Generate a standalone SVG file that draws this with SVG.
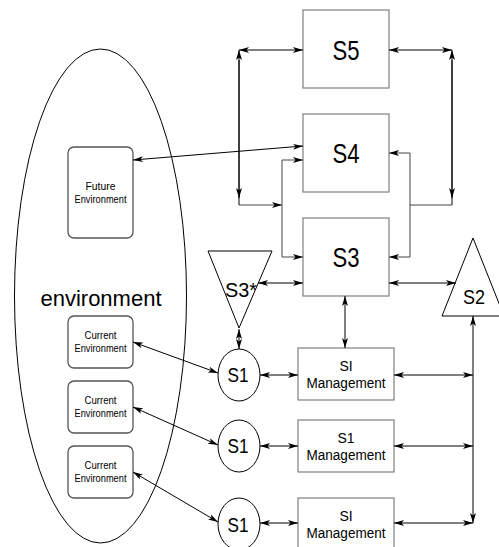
<svg xmlns="http://www.w3.org/2000/svg" width="499" height="547" viewBox="0 0 499 547">
<defs>
<marker id="ah" viewBox="0 0 10 6" refX="10" refY="3" markerWidth="10" markerHeight="6" markerUnits="userSpaceOnUse" orient="auto-start-reverse">
<path d="M0,0 L10,3 L0,6 L2.5,3 z" fill="#000"/>
</marker>
</defs>
<style>
.box{fill:#fff;stroke:#808080;stroke-width:1.2}
.env{fill:#fff;stroke:#555;stroke-width:1.3}
.sh{fill:#fff;stroke:#000;stroke-width:1}
.ln{fill:none;stroke:#000;stroke-width:1}
.g{stroke:#444}
.e{marker-end:url(#ah)}
.b{marker-start:url(#ah);marker-end:url(#ah)}
text{font-family:"Liberation Sans",Arial,sans-serif;fill:#000;text-anchor:middle}
.big{font-size:28px}
.mid{font-size:21px}
.sm{font-size:14px}
.xs{font-size:10px}
</style>
<g id="environment">
<ellipse class="sh" cx="100.5" cy="296" rx="86" ry="247"/>
<text x="101" y="306" style="font-size:22px">environment</text>
</g>
<g id="future-env">
<rect class="env" x="68" y="147" width="65" height="91" rx="6"/>
<text class="xs" x="100.5" y="190" textLength="30" lengthAdjust="spacingAndGlyphs">Future</text>
<text class="xs" x="100.5" y="203" textLength="52" lengthAdjust="spacingAndGlyphs">Environment</text>
</g>
<g id="current-env-1">
<rect class="env" x="68" y="316" width="65" height="52" rx="6"/>
<text class="xs" x="100.5" y="339" textLength="32" lengthAdjust="spacingAndGlyphs">Current</text>
<text class="xs" x="100.5" y="352" textLength="52" lengthAdjust="spacingAndGlyphs">Environment</text>
</g>
<g id="current-env-2">
<rect class="env" x="68" y="381" width="65" height="52" rx="6"/>
<text class="xs" x="100.5" y="404" textLength="32" lengthAdjust="spacingAndGlyphs">Current</text>
<text class="xs" x="100.5" y="417" textLength="52" lengthAdjust="spacingAndGlyphs">Environment</text>
</g>
<g id="current-env-3">
<rect class="env" x="68" y="446" width="65" height="52" rx="6"/>
<text class="xs" x="100.5" y="469" textLength="32" lengthAdjust="spacingAndGlyphs">Current</text>
<text class="xs" x="100.5" y="482" textLength="52" lengthAdjust="spacingAndGlyphs">Environment</text>
</g>
<g id="S5">
<rect class="box" x="303" y="10" width="86" height="78"/>
<text class="big" x="346" y="60" textLength="27" lengthAdjust="spacingAndGlyphs">S5</text>
</g>
<g id="S4">
<rect class="box" x="303" y="114" width="86" height="78"/>
<text class="big" x="346" y="163" textLength="27" lengthAdjust="spacingAndGlyphs">S4</text>
</g>
<g id="S3">
<rect class="box" x="303" y="218" width="86" height="78"/>
<text class="big" x="346" y="267" textLength="27" lengthAdjust="spacingAndGlyphs">S3</text>
</g>
<g id="S3star">
<polygon class="sh" points="208,251 272,251 239,328"/>
<text class="mid" x="241" y="297" textLength="32" lengthAdjust="spacingAndGlyphs">S3*</text>
</g>
<g id="S2">
<polygon class="sh" points="473,238 442,316 504,316"/>
<text class="mid" x="474" y="304" textLength="22" lengthAdjust="spacingAndGlyphs">S2</text>
</g>
<g id="S1-1">
<ellipse class="sh" cx="239" cy="375" rx="21" ry="26"/>
<text class="mid" x="238" y="382" textLength="21" lengthAdjust="spacingAndGlyphs">S1</text>
</g>
<g id="S1-2">
<ellipse class="sh" cx="239" cy="446" rx="21" ry="26"/>
<text class="mid" x="238" y="453" textLength="21" lengthAdjust="spacingAndGlyphs">S1</text>
</g>
<g id="S1-3">
<ellipse class="sh" cx="239" cy="524" rx="21" ry="26"/>
<text class="mid" x="238" y="532" textLength="21" lengthAdjust="spacingAndGlyphs">S1</text>
</g>
<g id="mgmt-1">
<rect class="box" x="298" y="348" width="96" height="52"/>
<text class="sm" x="346" y="371">SI</text>
<text class="sm" x="346" y="388" textLength="79" lengthAdjust="spacingAndGlyphs">Management</text>
</g>
<g id="mgmt-2">
<rect class="box" x="298" y="420" width="96" height="52"/>
<text class="sm" x="346" y="443">S1</text>
<text class="sm" x="346" y="460" textLength="79" lengthAdjust="spacingAndGlyphs">Management</text>
</g>
<g id="mgmt-3">
<rect class="box" x="298" y="498" width="96" height="52"/>
<text class="sm" x="346" y="521">SI</text>
<text class="sm" x="346" y="538" textLength="79" lengthAdjust="spacingAndGlyphs">Management</text>
</g>
<g id="connectors">
<line class="ln b" x1="239" y1="50" x2="303" y2="50"/>
<line class="ln e" x1="239" y1="205" x2="239" y2="50"/>
<line class="ln e" x1="239" y1="60" x2="239" y2="198"/>
<line class="ln g e" x1="239" y1="205" x2="282" y2="205"/>
<line class="ln b" x1="389" y1="50" x2="452" y2="50"/>
<line class="ln e" x1="452" y1="205" x2="452" y2="50"/>
<line class="ln e" x1="452" y1="60" x2="452" y2="198"/>
<line class="ln g" x1="410" y1="205" x2="452" y2="205"/>
<line class="ln g" x1="282" y1="160" x2="282" y2="257"/>
<line class="ln g e" x1="282" y1="160" x2="303" y2="160"/>
<line class="ln g e" x1="282" y1="257" x2="303" y2="257"/>
<line class="ln g" x1="410" y1="153" x2="410" y2="257"/>
<line class="ln g e" x1="410" y1="153" x2="389" y2="153"/>
<line class="ln g e" x1="410" y1="257" x2="389" y2="257"/>
<line class="ln b" x1="133" y1="160" x2="303" y2="146"/>
<line class="ln b" x1="258" y1="283" x2="303" y2="283"/>
<line class="ln b" x1="389" y1="283" x2="456" y2="283"/>
<line class="ln b" x1="345" y1="296" x2="345" y2="348"/>
<line class="ln b" x1="239" y1="329" x2="239" y2="349"/>
<line class="ln b" x1="473" y1="316" x2="473" y2="523"/>
<line class="ln b" x1="133" y1="342" x2="218" y2="373"/>
<line class="ln b" x1="133" y1="407" x2="218" y2="445"/>
<line class="ln b" x1="133" y1="472" x2="218" y2="522"/>
<line class="ln b" x1="260" y1="375" x2="298" y2="375"/>
<line class="ln b" x1="260" y1="446" x2="298" y2="446"/>
<line class="ln b" x1="260" y1="523" x2="298" y2="523"/>
<line class="ln b" x1="394" y1="375" x2="473" y2="375"/>
<line class="ln b" x1="394" y1="446" x2="473" y2="446"/>
<line class="ln b" x1="394" y1="523" x2="473" y2="523"/>
</g>
</svg>
